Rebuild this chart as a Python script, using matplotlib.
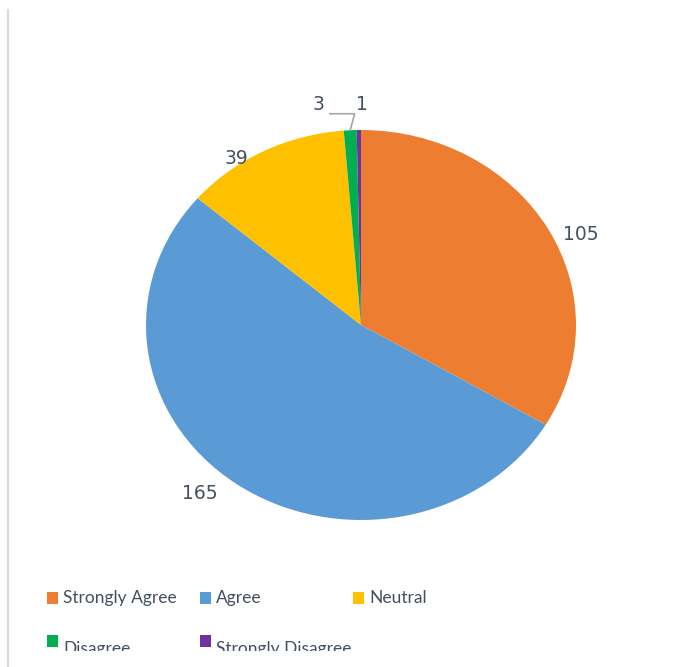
import matplotlib
matplotlib.use("Agg")
import matplotlib.pyplot as plt
from matplotlib.patches import Rectangle
from matplotlib.lines import Line2D
import numpy as np

# data
categories = ["Strongly Agree", "Agree", "Neutral", "Disagree", "Strongly Disagree"]
counts = [105, 165, 39, 3, 1]
colors = ["#ED7D31", "#5B9BD5", "#FFC000", "#00B050", "#7030A0"]

# label offsets (pixels) from the wedge edge, and legend layout (figure pixels)
label_offsets = [(33, -6), (-36, -10), (-27, -7), (-32, 26), (3, 26)]
legend_pos = [(47, 598), (200, 598), (353, 598), (47, 641), (200, 641)]
text_color = "#44505F"

W, H = 699, 667
fig = plt.figure(figsize=(W / 100, H / 100), dpi=100)

# pie is slightly wider than tall in the reference
cx, cy, rx, ry = 361, 325, 215, 195
ax = fig.add_axes([(cx - rx) / W, (H - cy - ry) / H, 2 * rx / W, 2 * ry / H])
wedges, _ = ax.pie(counts, colors=colors, startangle=90, counterclock=False,
                   wedgeprops=dict(linewidth=0))
ax.set_aspect("auto")
ax.set_xlim(-1, 1)
ax.set_ylim(-1, 1)

for w, val, off in zip(wedges, counts, label_offsets):
    ang = np.deg2rad((w.theta1 + w.theta2) / 2)
    xy = (np.cos(ang), np.sin(ang))
    kw = {}
    if val == 3:
        kw["arrowprops"] = dict(arrowstyle="-", color="#A6A6A6", lw=1.2,
                                shrinkA=2, shrinkB=0, relpos=(1.0, 0.0),
                                connectionstyle="angle,angleA=0,angleB=75,rad=0")
    ax.annotate(str(val), xy=xy, xytext=off, textcoords="offset pixels",
                ha="center", va="center", fontsize=13.5, color=text_color,
                family="DejaVu Sans", annotation_clip=False, **kw)

# legend drawn by hand to follow the reference's irregular spacing
for (px, py), lab, col in zip(legend_pos, categories, colors):
    fig.add_artist(Rectangle((px / W, 1 - (py + 6) / H), 11 / W, 12 / H,
                             transform=fig.transFigure, color=col, lw=0))
    dy = 0 if py < 620 else 8
    fig.text((px + 16) / W, 1 - (py + dy) / H, lab, ha="left", va="center",
             fontsize=12.5, color=text_color, family="Lato")

# the bottom row of the legend is clipped in the reference
fig.add_artist(Rectangle((20 / W, 0), 1, (H - 651) / H,
                         transform=fig.transFigure, color="white", lw=0, zorder=5))
# thin grey frame line on the left
fig.add_artist(Line2D([8 / W, 8 / W], [0, 1 - 10 / H], transform=fig.transFigure,
                      color="#D9D9D9", lw=1.5, zorder=6))

fig.savefig("out.png", dpi=100)
